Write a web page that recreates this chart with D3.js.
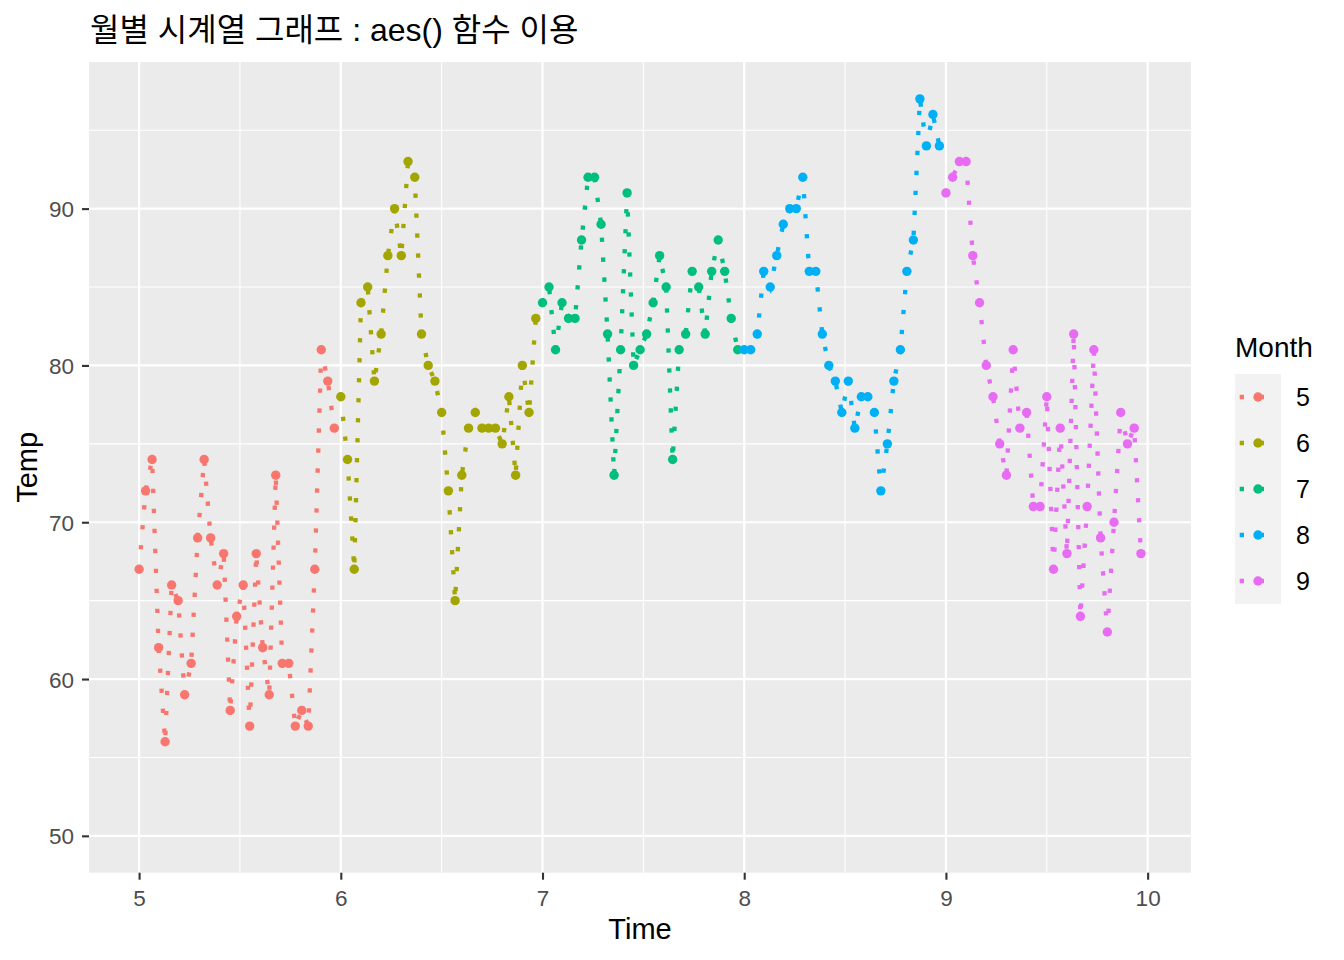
<!DOCTYPE html>
<html><head><meta charset="utf-8">
<script src="https://cdn.jsdelivr.net/npm/d3@7"></script>
<style>body{margin:0;background:#fff}</style>
</head><body>
<svg id="c" width="1344" height="960"></svg>
<script>
const months = [5, 6, 7, 8, 9];
const daysInMonth = [31, 30, 31, 31, 30];
const temp5 = [67,72,74,62,56,66,65,59,61,69,74,69,66,68,58,64,66,57,68,62,59,73,61,61,57,58,57,67,81,79,76];
const temp6 = [78,74,67,84,85,79,82,87,90,87,93,92,82,80,79,77,72,65,73,76,77,76,76,76,75,78,73,80,77,83];
const temp7 = [84,85,81,84,83,83,88,92,92,89,82,73,81,91,80,81,82,84,87,85,74,81,82,86,85,82,86,88,86,83,81];
const temp8 = [81,81,82,86,85,87,89,90,90,92,86,86,82,80,79,77,79,76,78,78,77,72,75,79,81,86,88,97,94,96,94];
const temp9 = [91,92,93,93,87,84,80,78,75,73,81,76,77,71,71,78,67,76,68,82,64,71,81,69,63,70,77,75,76,68];
const temps = [temp5, temp6, temp7, temp8, temp9];
const colors = ["#F8766D", "#A3A500", "#00BF7D", "#00B0F6", "#E76BF3"];
const xTicks = [5, 6, 7, 8, 9, 10];
const yTicks = [50, 60, 70, 80, 90];
const xMinor = [5.5, 6.5, 7.5, 8.5, 9.5];
const yMinor = [55, 65, 75, 85, 95];

const series = months.map((m, i) => ({
  month: m, color: colors[i],
  pts: temps[i].map((t, d) => ({time: m + d / daysInMonth[i], temp: t}))
}));

const svg = d3.select("#c");
const font = "'Liberation Sans', Arial, 'Noto Sans CJK KR', sans-serif";
const L = 89, R = 1191, T = 62, B = 872.7;
const allT = series.flatMap(s => s.pts.map(p => p.time));
const tmin = d3.min(allT), tmax = d3.max(allT);
const ex = (tmax - tmin) * 0.05;
const x = d3.scaleLinear().domain([tmin - ex, tmax + ex]).range([L, R]);
const ylo = 50, yhi = 97, ey = (yhi - ylo) * 0.05;
const y = d3.scaleLinear().domain([ylo - ey, yhi + ey]).range([B, T]);

svg.append("rect").attr("x", L).attr("y", T).attr("width", R - L).attr("height", B - T).attr("fill", "#EBEBEB");
const g = svg.append("g");
g.selectAll(".xm").data(xMinor).join("line").attr("x1", d => x(d)).attr("x2", d => x(d)).attr("y1", T).attr("y2", B).attr("stroke", "#fff").attr("stroke-width", 1.1);
g.selectAll(".ym").data(yMinor).join("line").attr("y1", d => y(d)).attr("y2", d => y(d)).attr("x1", L).attr("x2", R).attr("stroke", "#fff").attr("stroke-width", 1.1);
g.selectAll(".xM").data(xTicks).join("line").attr("x1", d => x(d)).attr("x2", d => x(d)).attr("y1", T).attr("y2", B).attr("stroke", "#fff").attr("stroke-width", 2.2);
g.selectAll(".yM").data(yTicks).join("line").attr("y1", d => y(d)).attr("y2", d => y(d)).attr("x1", L).attr("x2", R).attr("stroke", "#fff").attr("stroke-width", 2.2);

// axes
const xAxis = svg.append("g").attr("transform", `translate(0,${B})`)
  .call(d3.axisBottom(x).tickValues(xTicks).tickSize(7).tickPadding(5).tickFormat(d3.format("d")));
const yAxis = svg.append("g").attr("transform", `translate(${L},0)`)
  .call(d3.axisLeft(y).tickValues(yTicks).tickSize(7).tickPadding(8).tickFormat(d3.format("d")));
[xAxis, yAxis].forEach(a => {
  a.select(".domain").remove();
  a.selectAll(".tick line").attr("stroke", "#333333").attr("stroke-width", 2.1);
  a.selectAll(".tick text").attr("fill", "#4D4D4D").style("font-family", font).style("font-size", "22.5px");
});
xAxis.selectAll(".tick text").attr("y", 33).attr("dy", "0");
yAxis.selectAll(".tick text").attr("dy", "0.36em");

const line = d3.line().x(p => x(p.time)).y(p => y(p.temp));
const plot = svg.append("g");
series.forEach(s => {
  plot.append("path").datum(s.pts).attr("d", line).attr("fill", "none")
    .attr("stroke", s.color).attr("stroke-width", 4.3).attr("stroke-dasharray", "4.3 15.7");
});
series.forEach(s => {
  plot.selectAll(null).data(s.pts).join("circle").attr("cx", p => x(p.time)).attr("cy", p => y(p.temp))
    .attr("r", 4.7).attr("fill", s.color);
});

// titles
svg.append("text").attr("x", 90).attr("y", 41).text("월별 시계열 그래프 : aes() 함수 이용")
  .style("font-family", font).style("font-size", "32px").attr("fill", "#000");
svg.append("text").attr("x", (L + R) / 2).attr("y", 939).attr("text-anchor", "middle").text("Time")
  .style("font-family", font).style("font-size", "29px").attr("fill", "#000");
svg.append("text").attr("transform", `translate(37,${(T + B) / 2}) rotate(-90)`).attr("text-anchor", "middle").text("Temp")
  .style("font-family", font).style("font-size", "29px").attr("fill", "#000");

// legend
const lg = svg.append("g");
lg.append("text").attr("x", 1235).attr("y", 357).text("Month").style("font-family", font).style("font-size", "28px").attr("fill", "#000");
lg.append("rect").attr("x", 1235).attr("y", 374).attr("width", 46).attr("height", 230).attr("fill", "#F2F2F2");
months.forEach((m, i) => {
  const cy = 374 + 23 + i * 46;
  lg.append("line").attr("x1", 1237).attr("x2", 1279).attr("y1", cy).attr("y2", cy)
    .attr("stroke", colors[i]).attr("stroke-width", 4.3).attr("stroke-dasharray", "4.3 15.7").attr("stroke-dashoffset", -2.7);
  lg.append("circle").attr("cx", 1258).attr("cy", cy).attr("r", 4.7).attr("fill", colors[i]);
  lg.append("text").attr("x", 1296).attr("y", cy).attr("dy", "0.36em").text(m)
    .style("font-family", font).style("font-size", "25px").attr("fill", "#000");
});
</script>
</body></html>
